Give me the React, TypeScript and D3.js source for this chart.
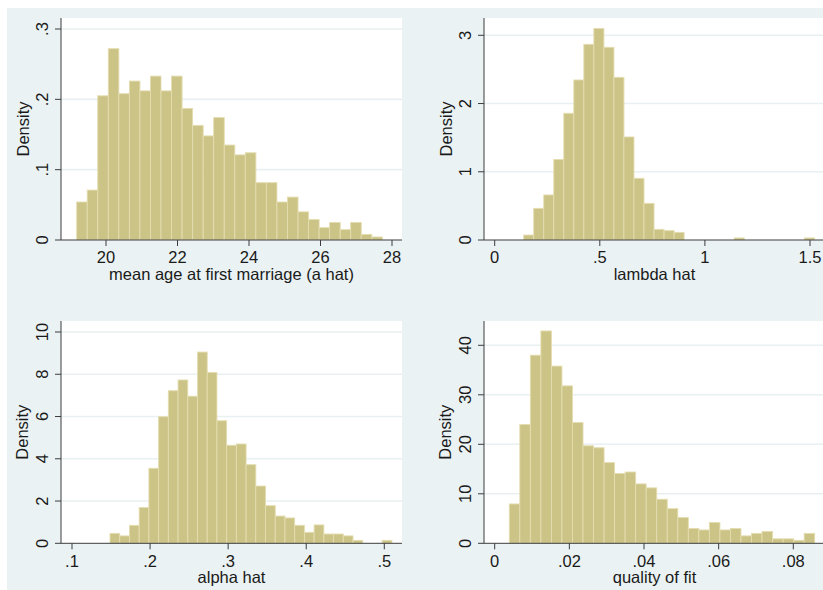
import React from "react";
import * as d3 from "d3";

// ---- Data (densities) ----
const ageDensity = [0.054, 0.071, 0.205, 0.272, 0.208, 0.226, 0.212, 0.233, 0.212, 0.233, 0.187, 0.163, 0.148, 0.174, 0.135, 0.121, 0.124, 0.0815, 0.0815, 0.054, 0.061, 0.040, 0.029, 0.0175, 0.025, 0.0147, 0.025, 0.008, 0.0043];
const ageRange = [19.18, 27.73];
const ageXTicks = [20, 22, 24, 26, 28];
const ageXLabels = ["20", "22", "24", "26", "28"];
const ageYTicks = [0, 0.1, 0.2, 0.3];
const ageYLabels = ["0", ".1", ".2", ".3"];

const lambdaDensity = [0.073, 0.464, 0.66, 1.18, 1.857, 2.345, 2.868, 3.10, 2.824, 2.384, 1.51, 0.904, 0.537, 0.156, 0.137, 0.112, 0, 0, 0, 0, 0, 0.03, 0, 0, 0, 0, 0, 0, 0.03];
const lambdaRange = [0.138, 1.521];
const lambdaXTicks = [0, 0.5, 1, 1.5];
const lambdaXLabels = ["0", ".5", "1", "1.5"];
const lambdaYTicks = [0, 1, 2, 3];
const lambdaYLabels = ["0", "1", "2", "3"];

const alphaDensity = [0.47, 0.35, 0.85, 1.69, 3.55, 5.99, 7.22, 7.73, 6.96, 9.05, 8.08, 5.80, 4.64, 4.70, 3.72, 2.71, 1.78, 1.29, 1.20, 0.85, 0.52, 0.87, 0.44, 0.44, 0.35, 0.14, 0, 0, 0.14];
const alphaRange = [0.1487, 0.5097];
const alphaXTicks = [0.1, 0.2, 0.3, 0.4, 0.5];
const alphaXLabels = [".1", ".2", ".3", ".4", ".5"];
const alphaYTicks = [0, 2, 4, 6, 8, 10];
const alphaYLabels = ["0", "2", "4", "6", "8", "10"];

const fitDensity = [7.95, 24.0, 38.0, 42.9, 35.8, 31.8, 24.4, 19.7, 19.3, 16.3, 14.1, 14.4, 12.0, 11.2, 8.9, 7.0, 5.2, 3.0, 2.7, 4.2, 2.7, 3.0, 1.5, 2.0, 2.4, 0.9, 0.9, 0.6, 2.0];
const fitRange = [0.00391, 0.08573];
const fitXTicks = [0, 0.02, 0.04, 0.06, 0.08];
const fitXLabels = ["0", ".02", ".04", ".06", ".08"];
const fitYTicks = [0, 10, 20, 30, 40];
const fitYLabels = ["0", "10", "20", "30", "40"];

const titles = ["mean age at first marriage (a hat)", "lambda hat", "alpha hat", "quality of fit"];

// ---- Styles ----
const BG = "#eaf2f3";
const GRID = "#e9f0f1";
const BAR_FILL = "#ccc386";
const BAR_STROKE = "#e4ddb0";
const AXIS = "#3c3c3c";
const TEXT = "#1a1a1a";
const FONT = "'Liberation Sans', Arial, Helvetica, sans-serif";
const FS = 16.5;

type PanelSpec = {
  density: number[];
  range: number[];
  xTicks: number[];
  xLabels: string[];
  yTicks: number[];
  yLabels: string[];
  title: string;
  left: number;
  right: number;
  top: number;
  bottom: number;
  xPix: [number, number];
  yTopPix: number;
  tickBase: number;
  titleBase: number;
};

function Panel({ p }: { p: PanelSpec }) {
  const x = d3
    .scaleLinear()
    .domain([p.xTicks[0], p.xTicks[p.xTicks.length - 1]])
    .range(p.xPix);
  const y = d3
    .scaleLinear()
    .domain([0, p.yTicks[p.yTicks.length - 1]])
    .range([p.bottom, p.yTopPix]);
  const n = p.density.length;
  const w = (p.range[1] - p.range[0]) / n;
  const clipId = `clip-${p.left}-${Math.round(p.top)}`;
  return (
    <g>
      <defs>
        <clipPath id={clipId}>
          <rect x={p.left} y={p.top} width={p.right - p.left} height={p.bottom - p.top} />
        </clipPath>
      </defs>
      <rect x={p.left} y={p.top} width={p.right - p.left} height={p.bottom - p.top} fill="#ffffff" />
      {p.yTicks.slice(1).map((t, i) => (
        <line key={"g" + i} x1={p.left} x2={p.right} y1={y(t)} y2={y(t)} stroke={GRID} strokeWidth={1.6} />
      ))}
      <g clipPath={`url(#${clipId})`}>
        {p.density.map((d, i) => {
          if (d <= 0) return null;
          const x0 = x(p.range[0] + i * w);
          const x1 = x(p.range[0] + (i + 1) * w);
          return (
            <rect
              key={"b" + i}
              x={x0}
              y={y(d)}
              width={x1 - x0}
              height={y(0) - y(d)}
              fill={BAR_FILL}
              stroke={BAR_STROKE}
              strokeWidth={0.9}
            />
          );
        })}
      </g>
      {/* axes */}
      <line x1={p.left} x2={p.left} y1={p.top} y2={p.bottom} stroke={AXIS} strokeWidth={1} />
      <line x1={p.left} x2={p.right} y1={p.bottom} y2={p.bottom} stroke={AXIS} strokeWidth={1} />
      {p.yTicks.map((t, i) => (
        <g key={"yt" + i}>
          <line x1={p.left - 6} x2={p.left} y1={y(t)} y2={y(t)} stroke={AXIS} strokeWidth={1} />
          <text
            x={p.left - 13}
            y={y(t)}
            transform={`rotate(-90, ${p.left - 13}, ${y(t)})`}
            textAnchor="middle"
            fontFamily={FONT}
            fontSize={FS}
            fill={TEXT}
          >
            {p.yLabels[i]}
          </text>
        </g>
      ))}
      {p.xTicks.map((t, i) => (
        <g key={"xt" + i}>
          <line x1={x(t)} x2={x(t)} y1={p.bottom} y2={p.bottom + 6} stroke={AXIS} strokeWidth={1} />
          <text x={x(t)} y={p.bottom + p.tickBase} textAnchor="middle" fontFamily={FONT} fontSize={FS} fill={TEXT}>
            {p.xLabels[i]}
          </text>
        </g>
      ))}
      <text
        x={p.left - 32.5}
        y={(p.top + p.bottom) / 2}
        transform={`rotate(-90, ${p.left - 32.5}, ${(p.top + p.bottom) / 2})`}
        textAnchor="middle"
        fontFamily={FONT}
        fontSize={FS}
        fill={TEXT}
      >
        Density
      </text>
      <text
        x={(p.left + p.right) / 2}
        y={p.bottom + p.titleBase}
        textAnchor="middle"
        fontFamily={FONT}
        fontSize={FS}
        fill={TEXT}
      >
        {p.title}
      </text>
    </g>
  );
}

export default function App() {
  const panels: PanelSpec[] = [
    {
      density: ageDensity, range: ageRange, xTicks: ageXTicks, xLabels: ageXLabels,
      yTicks: ageYTicks, yLabels: ageYLabels, title: titles[0],
      left: 61, right: 402, top: 18, bottom: 240, xPix: [106, 392], yTopPix: 29,
      tickBase: 23.3, titleBase: 40,
    },
    {
      density: lambdaDensity, range: lambdaRange, xTicks: lambdaXTicks, xLabels: lambdaXLabels,
      yTicks: lambdaYTicks, yLabels: lambdaYLabels, title: titles[1],
      left: 484, right: 825, top: 18, bottom: 240, xPix: [494.7, 810], yTopPix: 35.3,
      tickBase: 23.3, titleBase: 40,
    },
    {
      density: alphaDensity, range: alphaRange, xTicks: alphaXTicks, xLabels: alphaXLabels,
      yTicks: alphaYTicks, yLabels: alphaYLabels, title: titles[2],
      left: 61, right: 402, top: 321, bottom: 543.3, xPix: [72, 384.3], yTopPix: 332,
      tickBase: 23.5, titleBase: 40,
    },
    {
      density: fitDensity, range: fitRange, xTicks: fitXTicks, xLabels: fitXLabels,
      yTicks: fitYTicks, yLabels: fitYLabels, title: titles[3],
      left: 484, right: 825, top: 321, bottom: 543.3, xPix: [494.7, 793.3], yTopPix: 345.3,
      tickBase: 23.5, titleBase: 40,
    },
  ];
  return (
    <svg
      width={823}
      height={590}
      style={{ position: "absolute", left: 0, top: 0, display: "block" }}
    >
      <rect x={0} y={0} width={823} height={590} fill="#ffffff" />
      <rect x={7} y={8} width={816} height={582} fill={BG} />
      {panels.map((p, i) => (
        <Panel key={i} p={p} />
      ))}
    </svg>
  );
}
